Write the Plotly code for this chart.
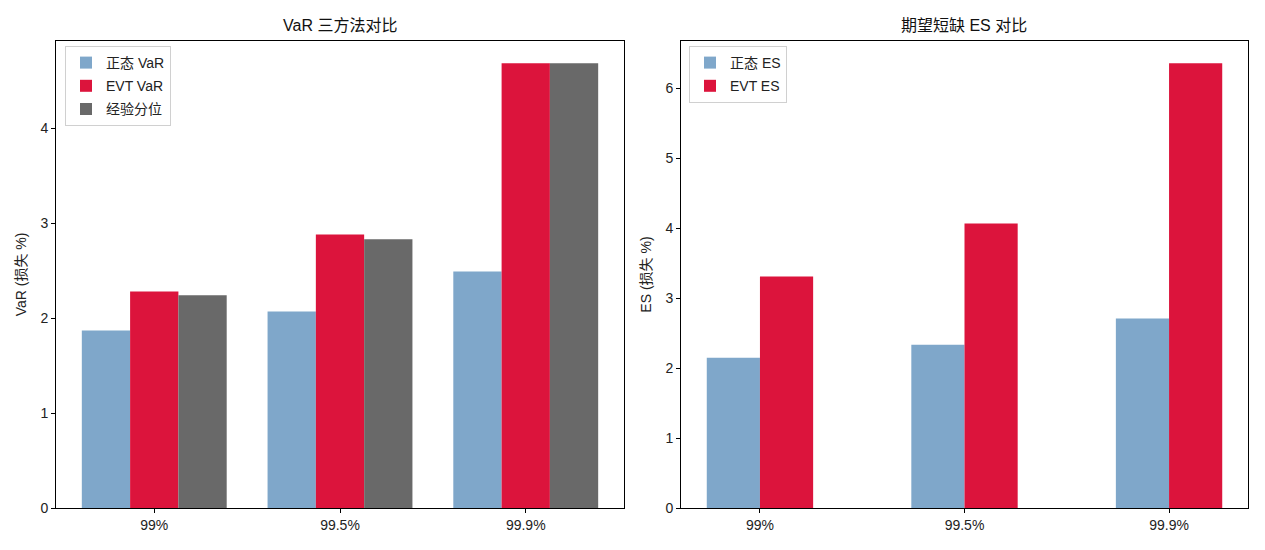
import numpy as np
import plotly.graph_objects as go

levels = ["99%", "99.5%", "99.9%"]
var_normal = [1.87, 2.07, 2.49]
var_evt = [2.28, 2.88, 4.685]
var_empirical = [2.24, 2.83, 4.685]
es_normal = [2.15, 2.335, 2.71]
es_evt = [3.31, 4.07, 6.36]

W, H = 1265, 550
BLUE = "#7FA7CA"
RED = "#DC143C"
GRAY = "#696969"
FONT = "Liberation Sans, Noto Sans CJK SC, sans-serif"
w = 0.26
idx = np.arange(len(levels))

fig = go.Figure()
left_series = [("正态 VaR", var_normal, BLUE), ("EVT VaR", var_evt, RED), ("经验分位", var_empirical, GRAY)]
for i, (name, vals, col) in enumerate(left_series):
    fig.add_trace(go.Bar(x=idx + (i - 1) * w, y=vals, width=w, name=name,
                         marker=dict(color=col, line=dict(width=0)),
                         xaxis="x", yaxis="y", legend="legend", legendgroup="l%d" % i))
right_series = [("正态 ES", es_normal, BLUE), ("EVT ES", es_evt, RED)]
for i, (name, vals, col) in enumerate(right_series):
    fig.add_trace(go.Bar(x=idx + (i - 0.5) * w, y=vals, width=w, name=name,
                         marker=dict(color=col, line=dict(width=0)),
                         xaxis="x2", yaxis="y2", legend="legend2", legendgroup="r%d" % i))

def px_x(p):
    return p / W

def px_y(p):
    return 1 - p / H

ydom = [px_y(508), px_y(41)]
axis_common = dict(showline=True, linecolor="black", linewidth=1, mirror=True,
                   ticks="outside", ticklen=4, tickwidth=1, tickcolor="black", automargin=False,
                   showgrid=False, zeroline=False, tickfont=dict(size=14, color="#222"))

lmax = max(max(var_evt), max(var_empirical), max(var_normal))
rmax = max(max(es_evt), max(es_normal))
lspan = (len(levels) - 1) + 3 * w
rspan = (len(levels) - 1) + 2 * w

fig.update_layout(
    width=W, height=H, margin=dict(l=0, r=0, t=0, b=0),
    paper_bgcolor="white", plot_bgcolor="white",
    font=dict(family=FONT, size=14, color="#222"),
    barmode="overlay", showlegend=True,
    xaxis=dict(domain=[px_x(56), px_x(624)], anchor="y",
               range=[-1.5 * w - 0.05 * lspan, 2 + 1.5 * w + 0.05 * lspan],
               tickvals=list(idx), ticktext=levels, **axis_common),
    yaxis=dict(domain=ydom, anchor="x", range=[0, lmax * 1.05], dtick=1,
               title=dict(text="VaR (损失 %)", font=dict(size=14), standoff=10), **axis_common),
    xaxis2=dict(domain=[px_x(681), px_x(1248)], anchor="y2",
                range=[-w - 0.05 * rspan, 2 + w + 0.05 * rspan],
                tickvals=list(idx), ticktext=levels, **axis_common),
    yaxis2=dict(domain=ydom, anchor="x2", range=[0, rmax * 1.05], dtick=1,
                title=dict(text="ES (损失 %)", font=dict(size=14), standoff=10), **axis_common),
    legend=dict(x=px_x(65), y=px_y(46), xanchor="left", yanchor="top",
                bgcolor="rgba(255,255,255,0.8)", bordercolor="#d0d0d0", borderwidth=1,
                font=dict(size=14), tracegroupgap=2, itemwidth=30),
    legend2=dict(x=px_x(689), y=px_y(46), xanchor="left", yanchor="top",
                 bgcolor="rgba(255,255,255,0.8)", bordercolor="#d0d0d0", borderwidth=1,
                 font=dict(size=14), tracegroupgap=2, itemwidth=30),
    annotations=[
        dict(text="VaR 三方法对比", x=px_x(340), y=px_y(26), xref="paper", yref="paper",
             showarrow=False, font=dict(size=16, color="#111"), xanchor="center", yanchor="middle"),
        dict(text="期望短缺 ES 对比", x=px_x(964), y=px_y(26), xref="paper", yref="paper",
             showarrow=False, font=dict(size=16, color="#111"), xanchor="center", yanchor="middle"),
    ],
)

fig.write_html("out.html")
